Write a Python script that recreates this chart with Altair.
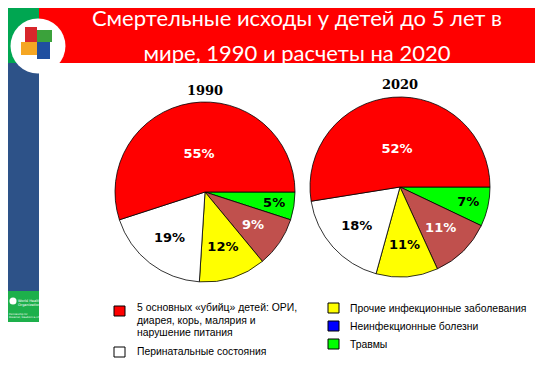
import math
import altair as alt
import pandas as pd

# ---------------- data ----------------
cat_keys = ["injuries", "noncomm", "other_inf", "perinatal", "killers"]  # clockwise from 3 o'clock
slice_colors = ["#00FF00", "#C0504D", "#FFFF00", "#FFFFFF", "#FF0000"]
values_1990 = [5, 9, 12, 19, 55]
values_2020 = [7, 11, 11, 18, 52]
years = ["1990", "2020"]

title_lines = ["Смертельные исходы у детей до 5 лет в", "мире, 1990 и расчеты на 2020"]

legend_left_labels = [
    ["5 основных «убийц» детей: ОРИ,", "диарея, корь, малярия и", "нарушение питания"],
    ["Перинатальные состояния"],
]
legend_left_colors = ["#FF0000", "#FFFFFF"]
legend_right_labels = ["Прочие инфекционные заболевания", "Неинфекционные болезни", "Травмы"]
legend_right_colors = ["#FFFF00", "#0000FF", "#00FF00"]

# ---------------- helpers ----------------
OFF = 8  # page margin
def P(v):
    return v - OFF

one = pd.DataFrame({"k": [0]})

def rect(x0, y0, x1, y1, color, stroke=None, sw=0):
    kw = dict(color=color)
    if stroke:
        kw.update(stroke=stroke, strokeWidth=sw)
    return alt.Chart(one).mark_rect(**kw).encode(
        x=alt.value(P(x0)), x2=alt.value(P(x1)), y=alt.value(P(y0)), y2=alt.value(P(y1))
    )

def text(x, y, s, size, color="black", font="DejaVu Sans", weight="normal", align="left",
         lh=None, baseline="middle"):
    kw = dict(fontSize=size, color=color, font=font, fontWeight=weight, align=align, baseline=baseline)
    if lh:
        kw["lineHeight"] = lh
    return alt.Chart(one).mark_text(text=s, **kw).encode(x=alt.value(P(x)), y=alt.value(P(y)))

layers = []

# ---------------- slide decoration ----------------
layers.append(rect(0, 0, 39, 63, "#00A651"))
layers.append(rect(39, 0, 543, 63, "#FF0000"))
layers.append(rect(0, 63, 39, 291, "#2D5288"))
layers.append(rect(0, 291, 39, 322, "#1DB04B"))
layers.append(
    alt.Chart(one).mark_circle(size=math.pi * 31 * 31, color="white", opacity=1).encode(
        x=alt.value(P(38)), y=alt.value(P(46))
    )
)
# puzzle logo
layers.append(rect(25, 27, 37, 42, "#D7262B"))
layers.append(rect(37, 30, 52, 42, "#3BA23B"))
layers.append(rect(21, 42, 37, 55, "#F5A623"))
layers.append(rect(37, 42, 50, 59, "#1F4FA0"))
# WHO logo
layers.append(
    alt.Chart(one).mark_circle(size=50, color="white", opacity=1).encode(
        x=alt.value(P(13)), y=alt.value(P(301))
    )
)
layers.append(text(18, 301, ["World Health", "Organization"], 3.5, color="white", lh=4))
layers.append(text(9, 314, ["Partnership for", "Maternal, Newborn & Child"], 2.5, color="white", lh=3))

# title
layers.append(text(297, 26, title_lines[0], 22, color="white", font="Lato", align="center",
                   baseline="alphabetic"))
layers.append(text(297, 61, title_lines[1], 22, color="white", font="Lato", align="center",
                   baseline="alphabetic"))

# ---------------- pies ----------------
def pie(vals, cx, cy, year, ty):
    df = pd.DataFrame({
        "cat": cat_keys,
        "value": vals,
        "ord": list(range(len(vals))),
    })
    base = alt.Chart(df).transform_calculate(label="datum.value + '%'").encode(
        theta=alt.Theta("value:Q", stack=True,
                        scale=alt.Scale(range=[math.pi / 2, math.pi / 2 + 2 * math.pi])),
        order=alt.Order("ord:Q"),
        x=alt.value(P(cx)), y=alt.value(P(cy)),
    )
    arc = base.mark_arc(radius=90, stroke="black", strokeWidth=0.8).encode(
        color=alt.Color("cat:N", scale=alt.Scale(domain=cat_keys, range=slice_colors), legend=None)
    )
    txt_color = alt.condition("datum.cat == 'killers' || datum.cat == 'noncomm'",
                              alt.value("white"), alt.value("black"))
    out = [arc]
    for r, test in [(38, "datum.cat == 'killers'"),
                    (70, "datum.cat == 'injuries'"),
                    (58, "datum.cat != 'killers' && datum.cat != 'injuries'")]:
        out.append(
            base.mark_text(radius=r, font="DejaVu Sans", fontWeight="bold", fontSize=13,
                           align="center", baseline="middle").encode(
                text="label:N",
                color=txt_color,
                opacity=alt.condition(test, alt.value(1), alt.value(0)),
            )
        )
    out.append(text(cx, ty, year, 13, font="DejaVu Serif", weight="bold", align="center"))
    return out

layers += pie(values_1990, 205, 192, years[0], 91)
layers += pie(values_2020, 400, 187, years[1], 85)

# ---------------- legend ----------------
LFONT = "Liberation Sans"
LSIZE = 10.4
# left column
layers.append(rect(114, 306, 125, 316, legend_left_colors[0], stroke="black", sw=1))
layers.append(text(137, 308, legend_left_labels[0], LSIZE, font=LFONT, lh=12.5))
layers.append(rect(114, 347, 125, 357, legend_left_colors[1], stroke="black", sw=1))
layers.append(text(137, 352, legend_left_labels[1][0], LSIZE, font=LFONT))
# right column
right_y = [308, 326, 344]
for lab, col, y in zip(legend_right_labels, legend_right_colors, right_y):
    layers.append(rect(328, y - 5, 339, y + 5, col, stroke="black", sw=1))
    layers.append(text(350, y + 1, lab, LSIZE, font=LFONT))

chart = alt.layer(*layers).resolve_scale(theta="independent").properties(
    width=527, height=350, padding=0, autosize=alt.AutoSizeParams(type="none")
).configure_view(strokeWidth=0)

chart.save("out.html", embed_options={"renderer": "svg", "actions": False})
